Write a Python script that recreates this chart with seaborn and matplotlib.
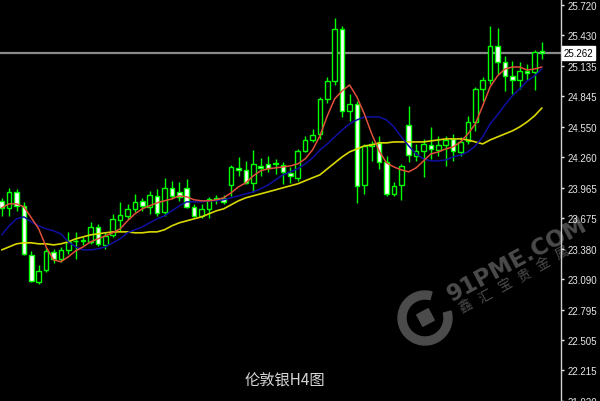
import matplotlib
matplotlib.use('Agg')
import matplotlib.pyplot as plt
import seaborn as sns
import pandas as pd
import numpy as np
from matplotlib.patches import Wedge, Rectangle
from matplotlib.transforms import blended_transform_factory, Affine2D

# H4 candles
opens = [23.841, 23.774, 23.927, 23.793, 23.322, 23.064, 23.179, 23.351, 23.285, 23.370,
         23.457, 23.457, 23.447, 23.591, 23.418, 23.514, 23.658, 23.697, 23.764, 23.841,
         23.783, 23.889, 23.735, 23.966, 23.927, 23.966, 23.783, 23.697, 23.764, 23.860,
         23.870, 23.994, 24.157, 24.138, 24.014, 24.176, 24.195, 24.205, 24.185, 24.110,
         24.062, 24.320, 24.425, 24.483, 24.819, 24.991, 25.490, 24.704, 24.771, 23.994,
         24.368, 24.397, 24.214, 23.908, 23.994, 24.569, 24.272, 24.320, 24.377, 24.329,
         24.377, 24.435, 24.310, 24.416, 24.598, 24.915, 25.000, 25.327, 25.173, 25.039,
         25.000, 25.087, 25.077, 25.279]
highs = [23.870, 23.966, 23.956, 23.831, 23.361, 23.227, 23.390, 23.380, 23.399, 23.543,
         23.543, 23.495, 23.639, 23.620, 23.543, 23.716, 23.831, 23.812, 23.908, 23.870,
         23.937, 23.956, 24.062, 24.033, 24.023, 24.052, 23.812, 23.812, 23.879, 23.898,
         23.898, 24.185, 24.262, 24.224, 24.329, 24.253, 24.272, 24.243, 24.214, 24.166,
         24.339, 24.464, 24.531, 24.838, 25.029, 25.596, 25.519, 24.867, 24.800, 24.387,
         24.416, 24.464, 24.272, 24.023, 24.195, 24.752, 24.387, 24.435, 24.550, 24.464,
         24.464, 24.483, 24.454, 24.656, 24.934, 25.029, 25.519, 25.500, 25.231, 25.183,
         25.173, 25.154, 25.288, 25.365]
lows = [23.697, 23.697, 23.745, 23.322, 23.064, 23.045, 23.160, 23.247, 23.256, 23.332,
        23.285, 23.418, 23.428, 23.409, 23.380, 23.495, 23.553, 23.668, 23.735, 23.745,
        23.716, 23.697, 23.697, 23.860, 23.841, 23.774, 23.687, 23.678, 23.678, 23.812,
        23.812, 23.889, 24.081, 24.004, 23.927, 24.081, 24.119, 24.100, 24.004, 24.014,
        24.033, 24.310, 24.406, 24.435, 24.781, 24.953, 24.646, 24.608, 23.822, 23.908,
        24.224, 24.148, 23.889, 23.889, 23.851, 24.214, 24.224, 24.071, 24.243, 24.272,
        24.176, 24.224, 24.272, 24.387, 24.512, 24.800, 24.963, 25.058, 24.896, 24.867,
        24.915, 25.000, 24.905, 25.202]
closes = [23.774, 23.927, 23.793, 23.332, 23.074, 23.170, 23.361, 23.285, 23.370, 23.447,
          23.455, 23.466, 23.591, 23.428, 23.505, 23.668, 23.706, 23.764, 23.831, 23.793,
          23.898, 23.726, 23.966, 23.889, 23.879, 23.783, 23.697, 23.764, 23.860, 23.870,
          23.831, 24.166, 24.138, 24.014, 24.195, 24.157, 24.157, 24.195, 24.119, 24.081,
          24.320, 24.425, 24.473, 24.819, 24.991, 25.490, 24.704, 24.771, 23.985, 24.368,
          24.387, 24.214, 23.908, 23.985, 24.176, 24.281, 24.320, 24.387, 24.339, 24.377,
          24.425, 24.320, 24.406, 24.598, 24.915, 25.000, 25.327, 25.173, 25.039, 25.000,
          25.087, 25.068, 25.269, 25.262]

# moving averages (fast red, mid blue, slow yellow)
ma_red = [23.774, 23.812, 23.812, 23.783, 23.678, 23.572, 23.399, 23.275, 23.256, 23.304,
          23.361, 23.399, 23.447, 23.476, 23.505, 23.534, 23.572, 23.649, 23.716, 23.764,
          23.793, 23.822, 23.841, 23.860, 23.889, 23.879, 23.851, 23.841, 23.841, 23.851,
          23.870, 23.918, 23.975, 24.014, 24.081, 24.129, 24.148, 24.157, 24.166, 24.176,
          24.195, 24.243, 24.329, 24.464, 24.656, 24.819, 24.896, 24.953, 24.838, 24.675,
          24.483, 24.320, 24.205, 24.166, 24.138, 24.119, 24.157, 24.224, 24.291, 24.310,
          24.339, 24.358, 24.406, 24.483, 24.579, 24.752, 24.934, 25.039, 25.106, 25.125,
          25.125, 25.096, 25.106, 25.125]
ma_blue = [23.514, 23.601, 23.668, 23.687, 23.639, 23.601, 23.572, 23.553, 23.524, 23.447,
           23.399, 23.370, 23.370, 23.380, 23.399, 23.438, 23.476, 23.534, 23.563, 23.591,
           23.630, 23.668, 23.697, 23.745, 23.793, 23.831, 23.831, 23.831, 23.841, 23.841,
           23.851, 23.870, 23.889, 23.908, 23.927, 23.956, 23.994, 24.042, 24.090, 24.119,
           24.148, 24.195, 24.253, 24.329, 24.387, 24.454, 24.521, 24.579, 24.617, 24.646,
           24.646, 24.646, 24.617, 24.550, 24.454, 24.368, 24.291, 24.243, 24.224, 24.224,
           24.233, 24.262, 24.281, 24.310, 24.368, 24.454, 24.579, 24.665, 24.761, 24.848,
           24.915, 24.991, 25.039, 25.106]
ma_yellow = [23.370, 23.399, 23.428, 23.438, 23.438, 23.428, 23.428, 23.418, 23.428, 23.447,
             23.476, 23.495, 23.514, 23.524, 23.534, 23.543, 23.543, 23.543, 23.534, 23.534,
             23.543, 23.543, 23.563, 23.601, 23.630, 23.649, 23.668, 23.687, 23.716, 23.745,
             23.764, 23.803, 23.841, 23.870, 23.889, 23.908, 23.927, 23.946, 23.966, 23.985,
             24.004, 24.033, 24.062, 24.090, 24.148, 24.205, 24.262, 24.310, 24.339, 24.368,
             24.377, 24.397, 24.397, 24.406, 24.406, 24.406, 24.406, 24.406, 24.416, 24.425,
             24.435, 24.435, 24.435, 24.425, 24.406, 24.387, 24.425, 24.454, 24.483, 24.512,
             24.550, 24.598, 24.656, 24.732]

last_price = 25.262
y_ticks = [25.720, 25.430, 25.135, 24.845, 24.550, 24.260, 23.965,
           23.675, 23.380, 23.090, 22.795, 22.505, 22.215, 21.920]
title = "伦敦银H4图"
wm_brand = "91PME.COM"
wm_name = "鑫汇宝贵金属"

sns.set_style("dark")
plt.rcParams['font.family'] = ['Noto Sans CJK SC', 'DejaVu Sans']

df = pd.DataFrame({'idx': np.arange(len(opens)), 'open': opens, 'high': highs,
                   'low': lows, 'close': closes, 'red': ma_red, 'blue': ma_blue,
                   'yellow': ma_yellow})

fig = plt.figure(figsize=(6, 4.02), dpi=100, facecolor='black')

# watermark layer (pixel coords, y up)
wm = fig.add_axes([0, 0, 1, 1], zorder=0)
wm.set_xlim(0, 600)
wm.set_ylim(0, 402)
wm.axis('off')
wm.set_facecolor('black')
wm_col = '#4b4b4b'
wm.add_patch(Wedge((425, 83), 27, 75, 375, width=8, color=wm_col))
sq = Rectangle((419, 77), 13, 13, color=wm_col)
sq.set_transform(Affine2D().rotate_deg_around(425.5, 83.5, 28) + wm.transData)
wm.add_patch(sq)
wm.text(452, 100, wm_brand, rotation=28, rotation_mode='anchor', ha='left', va='baseline',
        fontsize=16.5, color=wm_col, family='DejaVu Sans', weight='semibold')
ang = np.deg2rad(29)
for k, ch in enumerate(wm_name):
    wm.text(466 + 22 * k * np.cos(ang), 95 + 22 * k * np.sin(ang), ch, rotation=29,
            ha='center', va='center', fontsize=10, color=wm_col)

ax = fig.add_axes([0, 0, 561 / 600, 1], zorder=1)
ax.patch.set_alpha(0)
ax.grid(False)

green = '#00ff00'
bear = df['close'] < df['open']
ax.vlines(df['idx'], df['low'], df['high'], color=green, linewidth=1, zorder=2)
ax.bar(df['idx'], (df['close'] - df['open']).abs().clip(lower=0.0015),
       bottom=df[['open', 'close']].min(axis=1), width=0.62,
       color=np.where(bear, 'white', 'black'), edgecolor=green, linewidth=1, zorder=3)

sns.lineplot(data=df, x='idx', y='yellow', color='#d8d800', linewidth=1.2, ax=ax, zorder=4)
sns.lineplot(data=df, x='idx', y='blue', color='#1010a0', linewidth=1.1, ax=ax, zorder=4)
sns.lineplot(data=df, x='idx', y='red', color='#e0503a', linewidth=1.1, ax=ax, zorder=5)

ax.axhline(last_price, color='#8a8a8a', linewidth=1.6, zorder=1)

ax.set_xlim(-0.23, 75.58)
ax.set_ylim(21.923, 25.7775)
ax.set_xlabel('')
ax.set_ylabel('')
ax.set_xticks([])
ax.yaxis.tick_right()
ax.set_yticks(y_ticks)
ax.set_yticklabels([f'{v:.3f}' for v in y_ticks], family='Liberation Sans', fontsize=7)
ax.tick_params(axis='y', colors='#e8e8e8', length=2.5, width=1, pad=2)
for s in ['top', 'left', 'bottom']:
    ax.spines[s].set_visible(False)
ax.spines['right'].set_color('#d0d0d0')
ax.spines['right'].set_linewidth(1)

tr = blended_transform_factory(ax.transAxes, ax.transData)
ax.text(1.005, last_price, f'{last_price:.3f}', transform=tr, va='center', ha='left',
        fontsize=7, family='Liberation Sans', color='black', zorder=10,
        bbox=dict(boxstyle='square,pad=0.2', facecolor='white', edgecolor='white'))

fig.text(285 / 600, 1 - 381 / 402, title, ha='center', va='center', fontsize=11,
         color='#d6d6d6')

fig.savefig('out.png', dpi=100, facecolor='black')
